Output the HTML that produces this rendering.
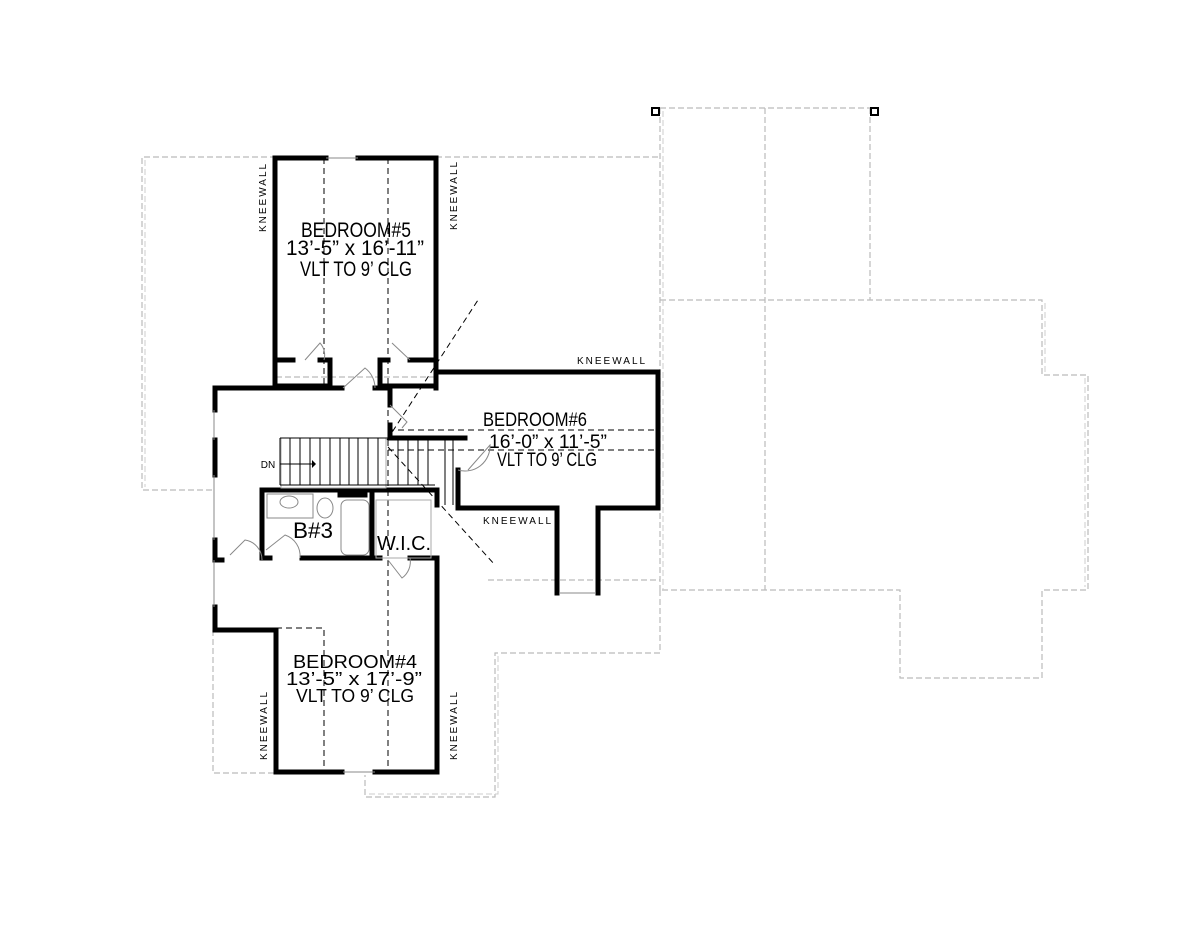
<!DOCTYPE html>
<html><head><style>html,body{margin:0;padding:0;background:#fff;}svg{display:block}</style></head>
<body>
<svg width="1200" height="927" viewBox="0 0 1200 927" xmlns="http://www.w3.org/2000/svg" font-family="Liberation Sans, sans-serif">
<rect width="1200" height="927" fill="#fff"/>
<g fill="none" stroke="#bbb" stroke-width="1.2" stroke-dasharray="6,3">
<polyline points="212,490 142,490 142,157 275,157"/>
<polyline points="436,157 660,157"/>
<polyline points="660,108 875,108"/>
<polyline points="660,108 660,590"/>
<polyline points="765,108 765,590"/>
<polyline points="870,108 870,300"/>
<polyline points="660,300 1042,300 1042,375 1088,375 1088,590 1042,590 1042,678 900,678 900,590 660,590"/>
<polyline points="488,580 660,580"/>
<polyline points="660,590 660,653 495,653 495,797 365,797 365,775"/>
<polyline points="213,630 213,773 276,773"/>
<polyline points="276,377 436,377"/>
</g>
<g fill="none" stroke="#ccc" stroke-width="1" stroke-dasharray="6,3">
<polyline points="145,160 145,487"/>
<polyline points="663,111 663,590"/>
<polyline points="1045,303 1045,372"/>
<polyline points="1085,378 1085,587"/>
<polyline points="498,656 498,794 368,794"/>
</g>
<rect x="652" y="108" width="7" height="7" fill="#fff" stroke="#000" stroke-width="2"/>
<rect x="871" y="108" width="7" height="7" fill="#fff" stroke="#000" stroke-width="2"/>
<g fill="none" stroke="#000" stroke-width="1" stroke-dasharray="6,4">
<line x1="324" y1="158" x2="324" y2="388"/>
<line x1="388" y1="158" x2="388" y2="388"/>
<line x1="387" y1="440" x2="478" y2="300"/>
<line x1="388" y1="430" x2="658" y2="430"/>
<line x1="388" y1="450" x2="658" y2="450"/>
<line x1="388" y1="447" x2="495" y2="565"/>
<line x1="388" y1="390" x2="388" y2="772"/>
<polyline points="276,628 324,628 324,772"/>
</g>
<g fill="none" stroke="#000" stroke-width="5" stroke-linecap="square">
<polyline points="326,158 275,158 275,386 330,386"/>
<polyline points="358,158 436,158 436,386 380,386"/>
<polyline points="277,360 293,360"/>
<polyline points="320,360 330,360 330,386"/>
<polyline points="380,386 380,360 388,360"/>
<polyline points="410,360 436,360"/>
<polyline points="342,388 215,388 215,410"/>
<polyline points="375,388 390,388 390,405"/>
<polyline points="436,372 658,372 658,508 598,508 598,593"/>
<polyline points="557,593 557,508 458,508"/>
<polyline points="390,425 390,438 465,438"/>
<polyline points="436,375 436,388"/>
<polyline points="215,440 215,475"/>
<polyline points="215,540 215,555"/>
<polyline points="262,553 262,490 437,490 437,505"/>
<polyline points="458,470 458,505"/>
<polyline points="262,558 270,558"/>
<polyline points="302,558 380,558"/>
<polyline points="410,558 437,558 437,772 375,772"/>
<polyline points="342,772 276,772 276,630 215,630 215,607"/>
<polyline points="215,560 222,560"/>
<polyline points="340,490 340,495 365,495"/>
<polyline points="372,490 372,558"/>
</g>
<g fill="none" stroke="#888" stroke-width="1">
<line x1="326" y1="158" x2="358" y2="158"/>
<line x1="343" y1="772" x2="375" y2="772"/>
<line x1="214" y1="410" x2="214" y2="440"/>
<line x1="214" y1="475" x2="214" y2="540"/>
<line x1="214" y1="560" x2="214" y2="607"/>
<line x1="559" y1="593" x2="596" y2="593"/>
<path d="M343,388 L365,368 A25,25 0 0 1 375,388"/>
<path d="M305,360 L320,343 A18,18 0 0 1 324,360"/>
<path d="M392,343 L410,360"/>
<path d="M390,405 L407,422 L402,428"/>
<path d="M230,555 L245,540 A20,20 0 0 1 262,560"/>
<path d="M266,550 L285,535 A22,22 0 0 1 300,558"/>
<path d="M388,560 L402,578 A20,20 0 0 0 410,558"/>
<path d="M468,470 L490,445 A25,25 0 0 1 458,470"/>
<rect x="281" y="438" width="105" height="50" fill="none" stroke="#aaa"/>
<rect x="341" y="500" width="28" height="55" rx="6"/>
<rect x="267" y="494" width="46" height="24"/>
<ellipse cx="289" cy="502" rx="9" ry="6"/>
<ellipse cx="325" cy="508" rx="8" ry="10"/>
<rect x="376" y="500" width="55" height="58" stroke="#aaa"/>
</g>
<g stroke="#000" stroke-width="1">
<line x1="280" y1="438" x2="435" y2="438"/>
<line x1="280" y1="485" x2="435" y2="485"/>
<line x1="280" y1="438" x2="280" y2="485"/><line x1="290" y1="438" x2="290" y2="485"/><line x1="300" y1="438" x2="300" y2="485"/><line x1="310" y1="438" x2="310" y2="485"/><line x1="320" y1="438" x2="320" y2="485"/><line x1="330" y1="438" x2="330" y2="485"/><line x1="340" y1="438" x2="340" y2="485"/><line x1="349" y1="438" x2="349" y2="485"/><line x1="358" y1="438" x2="358" y2="485"/><line x1="368" y1="438" x2="368" y2="485"/><line x1="378" y1="438" x2="378" y2="485"/><line x1="398" y1="440" x2="398" y2="485"/><line x1="408" y1="440" x2="408" y2="485"/><line x1="418" y1="440" x2="418" y2="485"/><line x1="428" y1="440" x2="428" y2="485"/><line x1="445" y1="440" x2="445" y2="505"/><line x1="453" y1="440" x2="453" y2="505"/>
<line x1="280" y1="464" x2="313" y2="464"/>
</g>
<polygon points="312,460 316,464 312,468" fill="#000"/>
<g fill="#000">
<text x="356" y="237" font-size="21" text-anchor="middle" textLength="110" lengthAdjust="spacingAndGlyphs">BEDROOM#5</text>
<text x="355" y="255" font-size="21" text-anchor="middle" textLength="138" lengthAdjust="spacingAndGlyphs">13’-5” x 16’-11”</text>
<text x="356" y="276" font-size="21" text-anchor="middle" textLength="112" lengthAdjust="spacingAndGlyphs">VLT TO 9’ CLG</text>
<text x="535" y="426" font-size="19" text-anchor="middle" textLength="104" lengthAdjust="spacingAndGlyphs">BEDROOM#6</text>
<text x="548" y="448" font-size="19" text-anchor="middle" textLength="118" lengthAdjust="spacingAndGlyphs">16’-0” x 11’-5”</text>
<text x="547" y="466" font-size="19" text-anchor="middle" textLength="100" lengthAdjust="spacingAndGlyphs">VLT TO 9’ CLG</text>
<text x="355" y="668" font-size="18" text-anchor="middle" textLength="124" lengthAdjust="spacingAndGlyphs">BEDROOM#4</text>
<text x="354" y="685" font-size="18" text-anchor="middle" textLength="136" lengthAdjust="spacingAndGlyphs">13’-5” x 17’-9”</text>
<text x="355" y="702" font-size="18" text-anchor="middle" textLength="118" lengthAdjust="spacingAndGlyphs">VLT TO 9’ CLG</text>
<text x="313" y="538" font-size="22" text-anchor="middle" textLength="40" lengthAdjust="spacingAndGlyphs">B#3</text>
<text x="404" y="550" font-size="20" text-anchor="middle" textLength="54" lengthAdjust="spacingAndGlyphs">W.I.C.</text>
<text x="268" y="468" font-size="10" text-anchor="middle">DN</text>
<g font-size="10" letter-spacing="2">
<text x="577" y="364">KNEEWALL</text>
<text x="483" y="524">KNEEWALL</text>
<text transform="translate(266,232) rotate(-90)">KNEEWALL</text>
<text transform="translate(457,230) rotate(-90)">KNEEWALL</text>
<text transform="translate(267,760) rotate(-90)">KNEEWALL</text>
<text transform="translate(457,760) rotate(-90)">KNEEWALL</text>
</g>
</g>
</svg>
</body></html>
